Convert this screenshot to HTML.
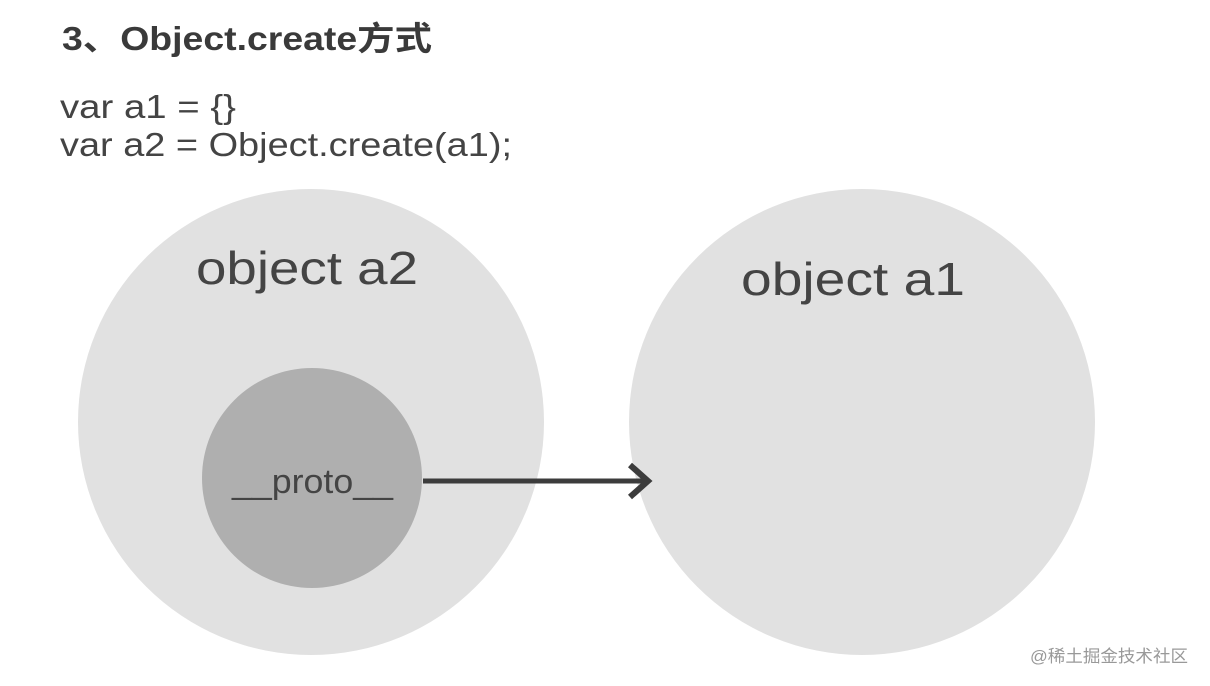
<!DOCTYPE html>
<html><head><meta charset="utf-8"><style>
body{margin:0;background:#fff;width:1210px;height:686px;overflow:hidden;}
</style></head><body>
<svg width="1210" height="686" xmlns="http://www.w3.org/2000/svg" style="position:absolute;left:0;top:0">
<circle cx="311" cy="422" r="233" fill="#e1e1e1"/>
<circle cx="862" cy="422" r="233" fill="#e1e1e1"/>
<circle cx="312" cy="478" r="110" fill="#afafaf"/>
<line x1="423" y1="481" x2="646" y2="481" stroke="#3c3c3c" stroke-width="5"/>
<polyline points="630,465 648,481 630,497" fill="none" stroke="#3c3c3c" stroke-width="6"/>
<g font-family="Liberation Sans, Noto Sans CJK SC, sans-serif" fill="#444">
<text x="62" y="50" font-size="33" font-weight="bold" fill="#3a3a3a" textLength="370" lengthAdjust="spacingAndGlyphs">3、Object.create方式</text>
<text x="60" y="118" font-size="33" textLength="176" lengthAdjust="spacingAndGlyphs">var a1 = {}</text>
<text x="60" y="156" font-size="33" textLength="452" lengthAdjust="spacingAndGlyphs">var a2 = Object.create(a1);</text>
<text x="196" y="284" font-size="46" textLength="222" lengthAdjust="spacingAndGlyphs">object  a2</text>
<text x="741" y="295" font-size="46" textLength="224" lengthAdjust="spacingAndGlyphs">object  a1</text>
<text x="232" y="493" font-size="34" textLength="161" lengthAdjust="spacingAndGlyphs">__proto__</text>
<text x="1030" y="662" font-size="17" fill="#999" textLength="158" lengthAdjust="spacingAndGlyphs">@稀土掘金技术社区</text>
</g>
</svg>
</body></html>
